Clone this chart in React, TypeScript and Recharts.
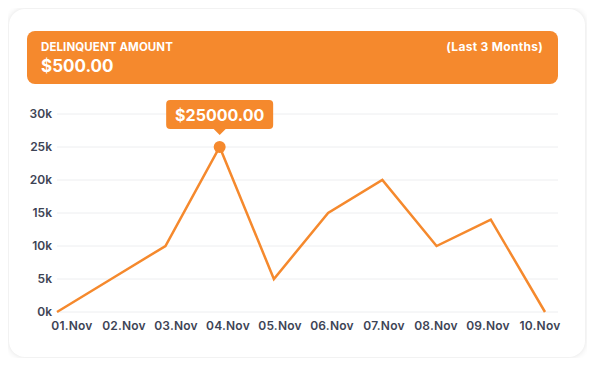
import { CartesianGrid, Line, LineChart, XAxis, YAxis } from "recharts";

const days = ["01.Nov", "02.Nov", "03.Nov", "04.Nov", "05.Nov", "06.Nov", "07.Nov", "08.Nov", "09.Nov", "10.Nov"];
const amounts = [0, 5000, 10000, 25000, 5000, 15000, 20000, 10000, 14000, 0];
const yTicks = [0, 5000, 10000, 15000, 20000, 25000, 30000];
const highlightIndex = 3;

const data = days.map((day, i) => ({ day, amount: amounts[i] }));

const ORANGE = "#F5892D";
const FONT = "Inter, 'Noto Sans', sans-serif";

function DayTick({ x, y, payload, index }: any) {
  // labels sit a bit right of the points on the left, drifting left across the axis
  const shift = 15 - (index * 20) / 9;
  return (
    <text x={x + shift} y={y} dy={10} textAnchor="middle" fill="#3D4455" fontSize={12} fontWeight={600} fontFamily={FONT} letterSpacing={0.2}>
      {payload.value}
    </text>
  );
}

function PeakDot({ cx, cy, index, payload }: any) {
  if (index !== highlightIndex) return <g key={index} />;
  const w = 107;
  const h = 29;
  const top = cy - 47;
  return (
    <g key={index}>
      <circle cx={cx} cy={cy} r={6} fill={ORANGE} />
      <rect x={cx - w / 2} y={top} width={w} height={h} rx={4} fill={ORANGE} />
      <path d={`M${cx - 6} ${top + h} L${cx} ${top + h + 6} L${cx + 6} ${top + h} Z`} fill={ORANGE} />
      <text x={cx} y={top + h / 2 + 6} textAnchor="middle" fill="#fff" fontSize={16} fontWeight={700} fontFamily={FONT}>
        ${payload.amount.toFixed(2)}
      </text>
    </g>
  );
}

export default function App() {
  return (
    <div style={{ position: "relative", width: 595, height: 366, margin: -8, background: "#fff", fontFamily: FONT }}>
      <div
        style={{
          position: "absolute",
          left: 9,
          top: 9,
          width: 576,
          height: 348,
          borderRadius: 16,
          background: "#fff",
          boxShadow: "0 0 6px rgba(0,0,0,0.12)",
        }}
      />
      <div
        style={{
          position: "absolute",
          left: 27,
          top: 31,
          width: 531,
          height: 53,
          borderRadius: 8,
          background: ORANGE,
          color: "#fff",
        }}
      >
        <div style={{ position: "absolute", left: 14, top: 9, fontSize: 11.5, fontWeight: 700, letterSpacing: 0.1 }}>
          DELINQUENT AMOUNT
        </div>
        <div style={{ position: "absolute", right: 15, top: 8, fontSize: 12, fontWeight: 700, letterSpacing: 0.3 }}>
          (Last 3 Months)
        </div>
        <div style={{ position: "absolute", left: 14, top: 25, fontSize: 17, fontWeight: 700 }}>$500.00</div>
      </div>
      <div style={{ position: "absolute", left: 0, top: 0 }}>
        <LineChart width={595} height={366} data={data} margin={{ top: 114, right: 37, bottom: 24, left: 0 }}>
          <CartesianGrid vertical={false} stroke="#EDEEF0" />
          <XAxis
            dataKey="day"
            axisLine={false}
            tickLine={false}
            height={30}
            padding={{ left: 0, right: 13 }}
            interval={0}
            tick={<DayTick />}
          />
          <YAxis
            width={57}
            domain={[0, 30000]}
            ticks={yTicks}
            axisLine={false}
            tickLine={false}
            tickSize={0}
            tickMargin={5}
            tickFormatter={(v: number) => `${v / 1000}k`}
            tick={{ fill: "#3D4455", fontSize: 12, fontWeight: 600, fontFamily: FONT }}
          />
          <Line
            type="linear"
            dataKey="amount"
            stroke={ORANGE}
            strokeWidth={2.5}
            dot={<PeakDot />}
            activeDot={false}
            isAnimationActive={false}
          />
        </LineChart>
      </div>
    </div>
  );
}
